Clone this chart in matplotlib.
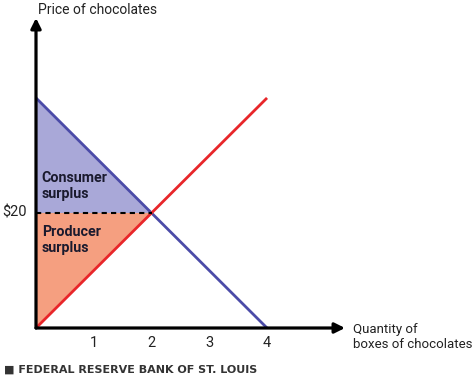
import matplotlib
matplotlib.use("Agg")
import matplotlib.pyplot as plt

plt.rcParams['font.family'] = ['Roboto', 'DejaVu Sans']

# demand / supply
quantity = [0, 4]
demand_price = [40, 0]
supply_price = [0, 40]
eq_q, eq_p = 2, 20
x_ticks = [1, 2, 3, 4]

fig = plt.figure(figsize=(4.75, 3.8), dpi=100)
ax = fig.add_axes([36 / 475, 52 / 380, 309 / 475, 310 / 380])
ax.set_xlim(0, 5.35)
ax.set_ylim(0, 53.9)
ax.axis('off')

# surplus areas
ax.fill([0, eq_q, 0], [demand_price[0], eq_p, eq_p], color='#a9a8d8', lw=0)
ax.fill([0, eq_q, 0], [0, eq_p, eq_p], color='#f59f80', lw=0)

ax.plot(quantity, demand_price, color='#4b4ba8', lw=2, solid_capstyle='butt')
ax.plot(quantity, supply_price, color='#e8262a', lw=2, solid_capstyle='butt')
ax.plot([0, eq_q], [eq_p, eq_p], color='black', lw=1.5, ls=(0, (2.5, 2)))

# axes with arrows
arrow = dict(arrowstyle='-|>,head_length=0.6,head_width=0.3', color='black', lw=2.3,
             shrinkA=0, shrinkB=0)
ax.annotate('', xy=(5.35, 0), xytext=(0, 0), xycoords='data', arrowprops=arrow,
            annotation_clip=False)
ax.annotate('', xy=(0, 53.9), xytext=(0, 0), xycoords='data', arrowprops=arrow,
            annotation_clip=False)

for t in x_ticks:
    ax.text(t, -2.6, str(t), ha='center', va='center', fontsize=10.5, color='#222222')
ax.text(-0.16, eq_p, '$20', ha='right', va='center', fontsize=10.5, color='#222222')

ax.text(0.1, 24.7, 'Consumer\nsurplus', ha='left', va='center', fontsize=10.3,
        fontweight='bold', color='#1a1a2e', linespacing=1.2)
ax.text(0.1, 15.3, 'Producer\nsurplus', ha='left', va='center', fontsize=10.3,
        fontweight='bold', color='#1a1a2e', linespacing=1.2)

fig.text(38 / 475, 1 - 10 / 380, 'Price of chocolates', ha='left', va='center',
         fontsize=10, color='#222222')
fig.text(353 / 475, 1 - 337 / 380, 'Quantity of\nboxes of chocolates', ha='left',
         va='center', fontsize=9.5, color='#222222', linespacing=1.15)
fig.text(4 / 475, 1 - 370 / 380, '■ FEDERAL RESERVE BANK OF ST. LOUIS', ha='left',
         va='center', fontsize=8, fontweight='bold', color='#333333',
         family='DejaVu Sans')

fig.savefig('out.png', dpi=100)
